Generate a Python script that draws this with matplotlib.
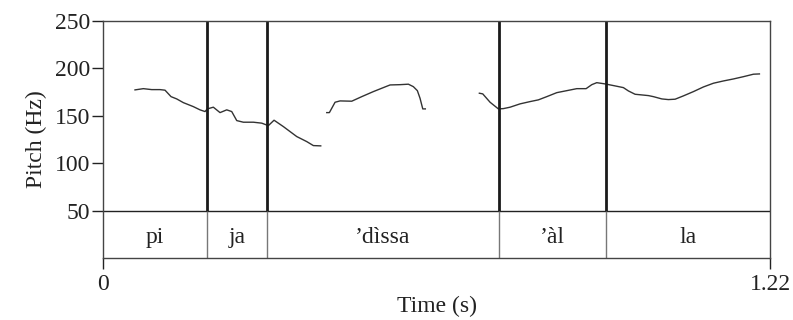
import matplotlib
matplotlib.use("Agg")
import matplotlib.pyplot as plt

# pitch contour, three voiced stretches (time in s, pitch in Hz)
seg1_t = [0.0585, 0.0738, 0.0891, 0.1043, 0.1134, 0.1244, 0.1348, 0.1469, 0.1652,
          0.1774, 0.1866, 0.1908, 0.2018, 0.2140, 0.2263, 0.2354, 0.2446, 0.2567,
          0.2750, 0.2903, 0.3024, 0.3128, 0.3298, 0.3543, 0.3726, 0.3847, 0.3982]
seg1_f = [177.2, 178.5, 177.5, 177.5, 176.9, 170.1, 167.7, 163.8, 159.6,
          156.2, 154.4, 157.2, 159.0, 153.3, 156.2, 154.4, 144.9, 143.2,
          143.2, 142.2, 139.6, 145.3, 138.6, 128.1, 122.8, 118.6, 118.3]

seg2_t = [0.4092, 0.4140, 0.4244, 0.4335, 0.4549, 0.4732, 0.4944, 0.5127,
          0.5250, 0.5433, 0.5585, 0.5676, 0.5749, 0.5798, 0.5848, 0.5895]
seg2_f = [153.3, 153.3, 164.2, 165.6, 165.3, 170.1, 175.4, 179.6,
          182.4, 182.7, 183.2, 180.6, 176.4, 168.4, 157.2, 157.2]

seg3_t = [0.6883, 0.6945, 0.7079, 0.7231, 0.7322, 0.7445, 0.7628, 0.7811, 0.7962,
          0.8116, 0.8299, 0.8482, 0.8665, 0.8835, 0.8939, 0.9030, 0.9182, 0.9365,
          0.9517, 0.9609, 0.9731, 0.9854, 0.9975, 1.0066, 1.0220, 1.0340, 1.0463,
          1.0615, 1.0798, 1.0981, 1.1163, 1.1346, 1.1529, 1.1712, 1.1895, 1.2005]
seg3_f = [173.7, 173.0, 164.2, 157.2, 157.5, 159.0, 162.5, 164.9, 166.7,
          170.1, 174.3, 176.4, 178.5, 178.5, 182.7, 184.8, 183.5, 181.4,
          179.6, 176.1, 172.6, 171.9, 171.2, 170.1, 167.7, 167.0, 167.4,
          170.9, 175.4, 180.3, 184.2, 186.6, 188.7, 191.1, 193.7, 194.0]

# syllable tier
boundaries = [0.190, 0.300, 0.724, 0.920]
syllables = ["pi", "ja", "\u2019dìssa", "\u2019àl", "la"]
t_end = 1.22
tier_top = 50
y_ticks = [50, 100, 150, 200, 250]

plt.rcParams['font.family'] = ['Liberation Serif', 'DejaVu Serif']
fs = 17

fig = plt.figure(figsize=(7.93, 3.2), dpi=100)
ax = fig.add_axes([0.1299, 0.1928, 0.8412, 0.7425])

for t, f in [(seg1_t, seg1_f), (seg2_t, seg2_f), (seg3_t, seg3_f)]:
    ax.plot(t, f, color='#333333', lw=1.0)

ax.axhline(tier_top, color='#222222', lw=1.0)
ax.vlines(boundaries, tier_top, 250, color='#1a1a1a', lw=2.0)
ax.vlines(boundaries, 0, tier_top, color='#777777', lw=1.0)

edges = [0] + boundaries + [t_end]
for i, s in enumerate(syllables):
    ax.text((edges[i] + edges[i + 1]) / 2, tier_top / 2 - 3, s,
            ha='center', va='center', fontsize=fs, color='#222222')

ax.set_xlim(0, t_end)
ax.set_ylim(0, 250)
ax.set_yticks(y_ticks)
ax.set_xticks([0, t_end])
ax.set_xticklabels(["0", "1.22"])
ax.tick_params(axis='both', labelsize=fs, length=8, width=1, colors='#222222')
ax.tick_params(axis='y', pad=1)
ax.tick_params(axis='x', pad=3)
ax.set_xlabel("Time (s)", fontsize=fs, color='#222222', labelpad=1)
ax.set_ylabel("Pitch (Hz)", fontsize=fs, color='#222222', labelpad=6)
for sp in ax.spines.values():
    sp.set_color('#444444')
    sp.set_linewidth(1.0)

fig.savefig("out.png", dpi=100)
